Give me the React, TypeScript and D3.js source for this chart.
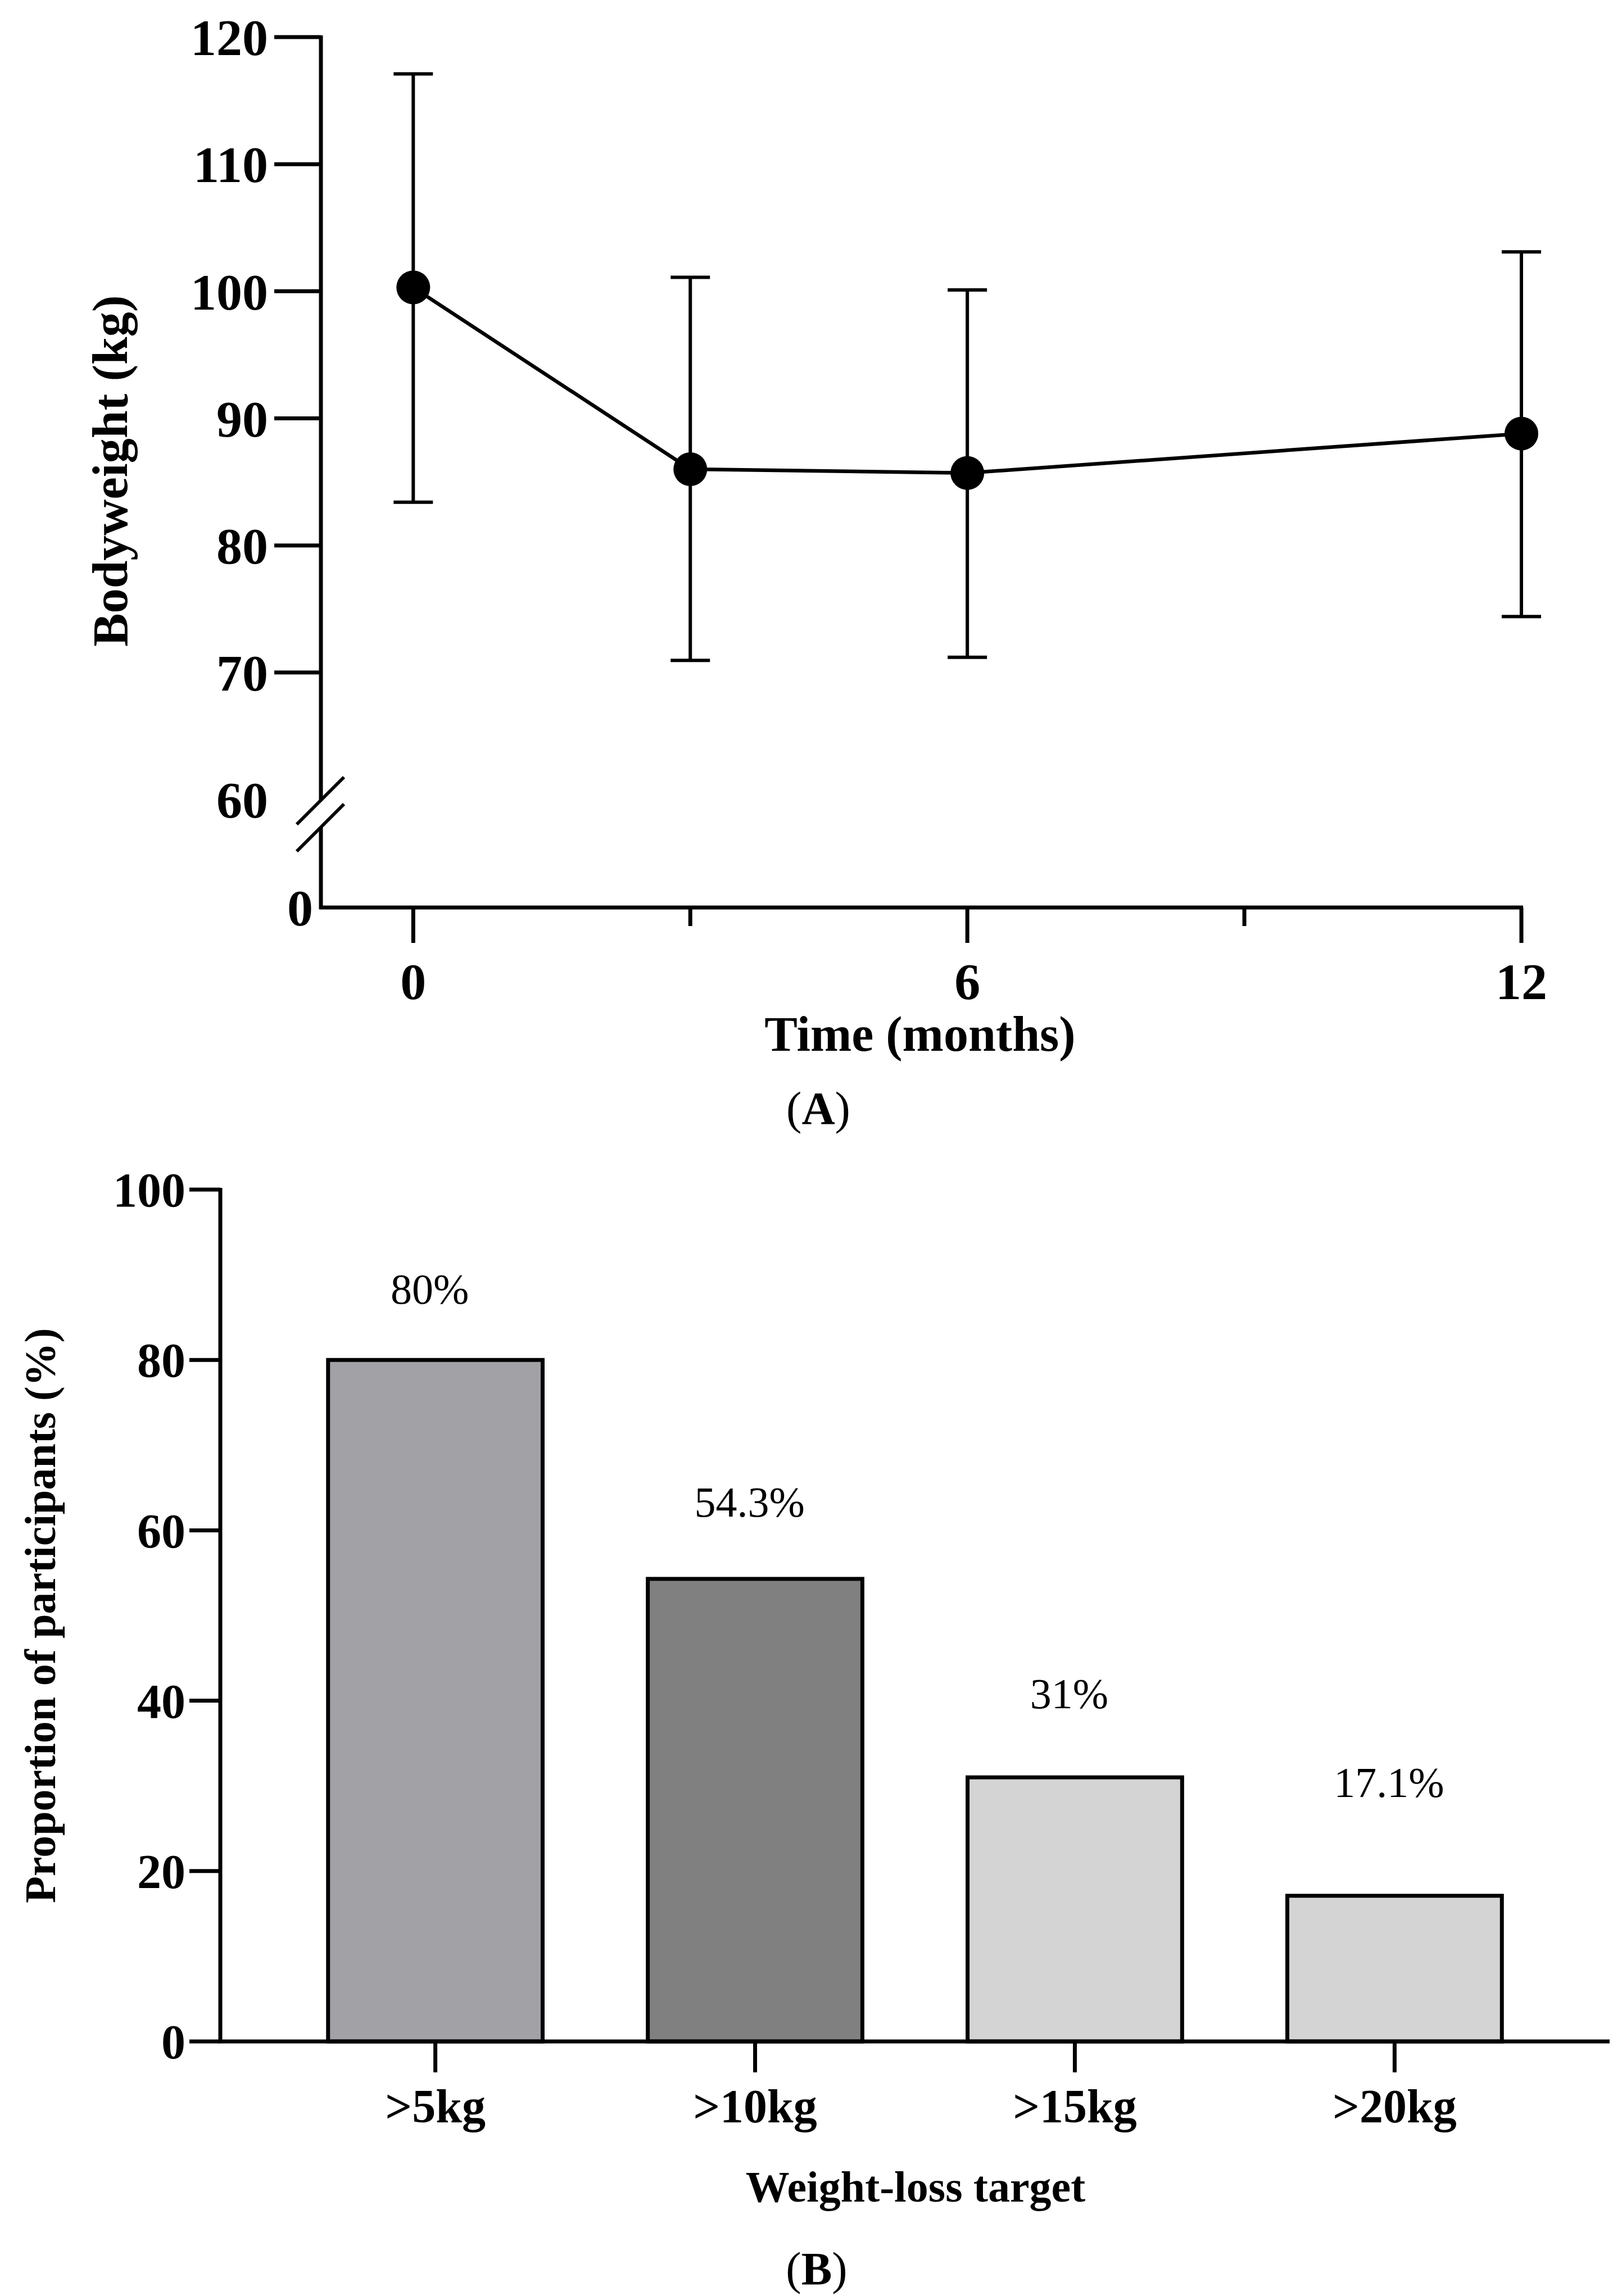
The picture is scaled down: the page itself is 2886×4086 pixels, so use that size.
import React from 'react';
import * as d3 from 'd3';

// Panel A: bodyweight over time (mean with error bars)
const months = [0, 3, 6, 12];
const meanWeight = [100.3, 86.0, 85.7, 88.8];
const upperWeight = [117.1, 101.1, 100.1, 103.1];
const lowerWeight = [83.4, 70.95, 71.2, 74.4];
const weightTicks = [60, 70, 80, 90, 100, 110, 120];
const monthTicks = [0, 3, 6, 9, 12];
const monthLabels = [0, 6, 12];

// Panel B: share of participants reaching each target
const targets = ['>5kg', '>10kg', '>15kg', '>20kg'];
const proportions = [80, 54.3, 31, 17.1];
const proportionLabels = ['80%', '54.3%', '31%', '17.1%'];
const barColors = ['#a2a1a6', '#808080', '#d4d4d4', '#d4d4d4'];
const proportionTicks = [0, 20, 40, 60, 80, 100];

const W = 2886;
const H = 4086;
const FONT = '"Liberation Serif", "Times New Roman", serif';
// how far each value label sits above its bar (px)
const LABEL_LIFT = [100, 111, 123, 176];

const App: React.FC = () => {
  // ---- panel A scales
  const xA = d3.scaleLinear().domain([-1, 12]).range([571, 2707]);
  const yA = d3.scaleLinear().domain([60, 120]).range([1423, 66]);
  const baseA = 1615;
  const axisX = xA(-1);

  const line = d3
    .line<number>()
    .x((_, i) => xA(months[i]))
    .y(d => yA(d));

  // ---- panel B scales
  const xB = d3
    .scaleBand<string>()
    .domain(targets)
    .range([392, 2864])
    .paddingInner(0.329)
    .paddingOuter(0.337);
  const yB = d3.scaleLinear().domain([0, 100]).range([3633, 2117]);
  const axisXB = 392;

  return (
    <svg
      width={W}
      height={H}
      style={{ position: 'absolute', left: 0, top: 0, background: '#fff' }}
      fontFamily={FONT}
    >
      <rect width={W} height={H} fill="#fff" />

      {/* ================= Panel A ================= */}
      <g stroke="#000" strokeWidth={7} fill="none" strokeLinecap="butt">
        {/* y axis, broken between the slashes */}
        <line x1={axisX} x2={axisX} y1={yA(120) - 3} y2={1425} />
        <line x1={axisX} x2={axisX} y1={1473} y2={baseA + 3} />
        <line x1={528} y1={1467} x2={612} y2={1383} strokeWidth={6} />
        <line x1={528} y1={1515} x2={612} y2={1431} strokeWidth={6} />
        {weightTicks
          .filter(t => t > 60)
          .map(t => (
            <line key={t} x1={488} x2={axisX} y1={yA(t)} y2={yA(t)} />
          ))}
        {/* x axis */}
        <line x1={axisX - 3} x2={xA(12) + 3} y1={baseA} y2={baseA} />
        {monthTicks.map(t => (
          <line
            key={t}
            x1={xA(t)}
            x2={xA(t)}
            y1={baseA}
            y2={baseA + (t % 6 === 0 ? 63 : 33)}
          />
        ))}
      </g>

      {/* error bars */}
      <g stroke="#000" strokeWidth={6}>
        {months.map((m, i) => (
          <g key={m}>
            <line x1={xA(m)} x2={xA(m)} y1={yA(upperWeight[i])} y2={yA(lowerWeight[i])} />
            <line x1={xA(m) - 35} x2={xA(m) + 35} y1={yA(upperWeight[i])} y2={yA(upperWeight[i])} />
            <line x1={xA(m) - 35} x2={xA(m) + 35} y1={yA(lowerWeight[i])} y2={yA(lowerWeight[i])} />
          </g>
        ))}
      </g>
      <path d={line(meanWeight) || ''} fill="none" stroke="#000" strokeWidth={6.5} />
      {months.map((m, i) => (
        <circle key={m} cx={xA(m)} cy={yA(meanWeight[i])} r={30} fill="#000" />
      ))}

      <g fontWeight="bold" fontSize={92} fill="#000">
        {weightTicks.map(t => (
          <text key={t} x={477} y={yA(t)} dy="0.35em" textAnchor="end">
            {t}
          </text>
        ))}
        <text x={557} y={baseA} dy="0.35em" textAnchor="end">
          0
        </text>
        {monthLabels.map(t => (
          <text key={t} x={xA(t)} y={1778} textAnchor="middle">
            {t}
          </text>
        ))}
        <text x={1637} y={1870} textAnchor="middle" fontSize={88}>
          Time (months)
        </text>
        <text
          transform={`translate(226, 838) rotate(-90)`}
          textAnchor="middle"
          fontSize={89}
        >
          Bodyweight (kg)
        </text>
      </g>
      <text x={1456} y={2000} textAnchor="middle" fontSize={82}>
        (<tspan fontWeight="bold">A</tspan>)
      </text>

      {/* ================= Panel B ================= */}
      {targets.map((t, i) => (
        <rect
          key={t}
          x={xB(t)!}
          y={yB(proportions[i])}
          width={xB.bandwidth()}
          height={yB(0) - yB(proportions[i])}
          fill={barColors[i]}
          stroke="#000"
          strokeWidth={7}
        />
      ))}
      <g stroke="#000" strokeWidth={7}>
        <line x1={axisXB} x2={axisXB} y1={yB(100) - 3} y2={yB(0) + 3} />
        {proportionTicks.map(t => (
          <line key={t} x1={337} x2={axisXB} y1={yB(t)} y2={yB(t)} />
        ))}
        <line x1={axisXB - 3} x2={2864} y1={yB(0)} y2={yB(0)} />
        {targets.map(t => {
          const cx = xB(t)! + xB.bandwidth() / 2;
          return <line key={t} x1={cx} x2={cx} y1={yB(0)} y2={yB(0) + 55} />;
        })}
      </g>

      <g fontWeight="bold" fill="#000">
        {proportionTicks.map(t => (
          <text key={t} x={330} y={yB(t)} dy="0.35em" textAnchor="end" fontSize={86}>
            {t}
          </text>
        ))}
        {targets.map(t => (
          <text
            key={t}
            x={xB(t)! + xB.bandwidth() / 2}
            y={3777}
            textAnchor="middle"
            fontSize={84}
          >
            {t}
          </text>
        ))}
        <text x={1629} y={3918} textAnchor="middle" fontSize={78}>
          Weight-loss target
        </text>
        <text
          transform={`translate(98, 2875) rotate(-90)`}
          textAnchor="middle"
          fontSize={78}
        >
          Proportion of participants (%)
        </text>
      </g>

      {targets.map((t, i) => (
        <text
          key={t}
          x={xB(t)! + xB.bandwidth() / 2 - 10}
          y={yB(proportions[i]) - LABEL_LIFT[i]}
          textAnchor="middle"
          fontSize={76}
          fill="#000"
        >
          {proportionLabels[i]}
        </text>
      ))}
      <text x={1453} y={4065} textAnchor="middle" fontSize={82}>
        (<tspan fontWeight="bold">B</tspan>)
      </text>
    </svg>
  );
};

export default App;
